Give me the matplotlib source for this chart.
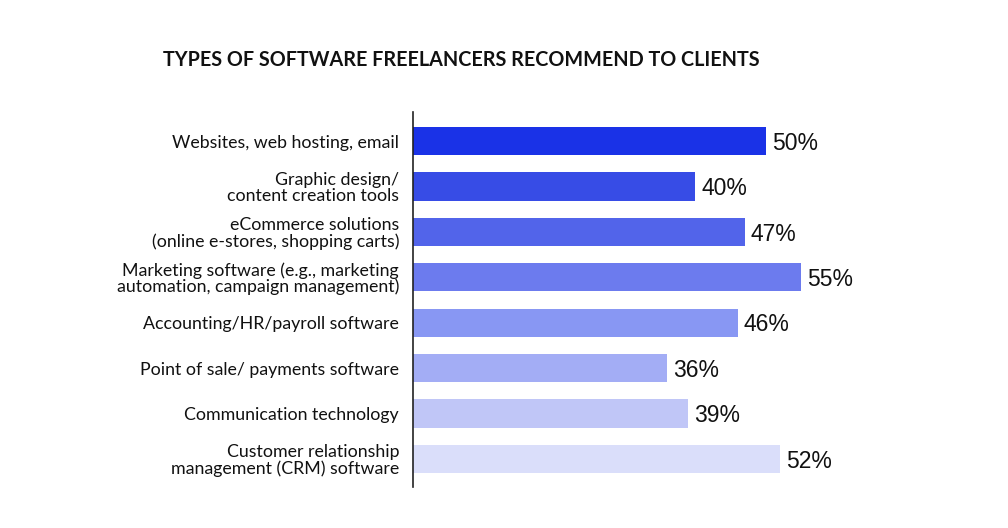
import matplotlib.pyplot as plt

# --------------------------------------------------------
# Données
# --------------------------------------------------------
categories = [
    "Websites, web hosting, email",
    "Graphic design/\ncontent creation tools",
    "eCommerce solutions\n(online e-stores, shopping carts)",
    "Marketing software (e.g., marketing\nautomation, campaign management)",
    "Accounting/HR/payroll software",
    "Point of sale/ payments software",
    "Communication technology",
    "Customer relationship\nmanagement (CRM) software",
]
values = [50, 40, 47, 55, 46, 36, 39, 52]
colors = ["#1a32e7", "#374ce6", "#5264ea", "#6c7bee", "#8897f3",
          "#a3adf5", "#c0c6f7", "#dadefa"]

title = "TYPES OF SOFTWARE FREELANCERS RECOMMEND TO CLIENTS"

# --------------------------------------------------------
# Figure
# --------------------------------------------------------
fig = plt.figure(figsize=(10.08, 5.28), dpi=100)
ax = fig.add_axes([413 / 1008, 1 - 487 / 528, 520 / 1008, 375 / 528])

y = list(range(len(categories)))
ax.barh(y, values, height=0.62, color=colors)

ax.set_xlim(0, 520 / 7.06)
ax.set_ylim(7.62, -0.64)

for yi, v in zip(y, values):
    ax.text(v + 0.85, yi + 0.05, f"{v}%", va="center", ha="left",
            fontsize=16.5, family="Liberation Sans", color="#111111")

ax.set_yticks(y)
ax.set_yticklabels(categories, family="Lato", fontsize=12.8,
                   color="#111111", linespacing=1.0)
ax.tick_params(axis="y", length=0, pad=10)
ax.set_xticks([])

for s in ["top", "right", "bottom"]:
    ax.spines[s].set_visible(False)
ax.spines["left"].set_color("#222222")
ax.spines["left"].set_linewidth(1.2)

fig.text(461 / 1008, 1 - 60 / 528, title, ha="center", va="center",
         family="Lato", fontweight="bold", fontsize=14.2, color="#111111")

fig.savefig("out.png", dpi=100)
